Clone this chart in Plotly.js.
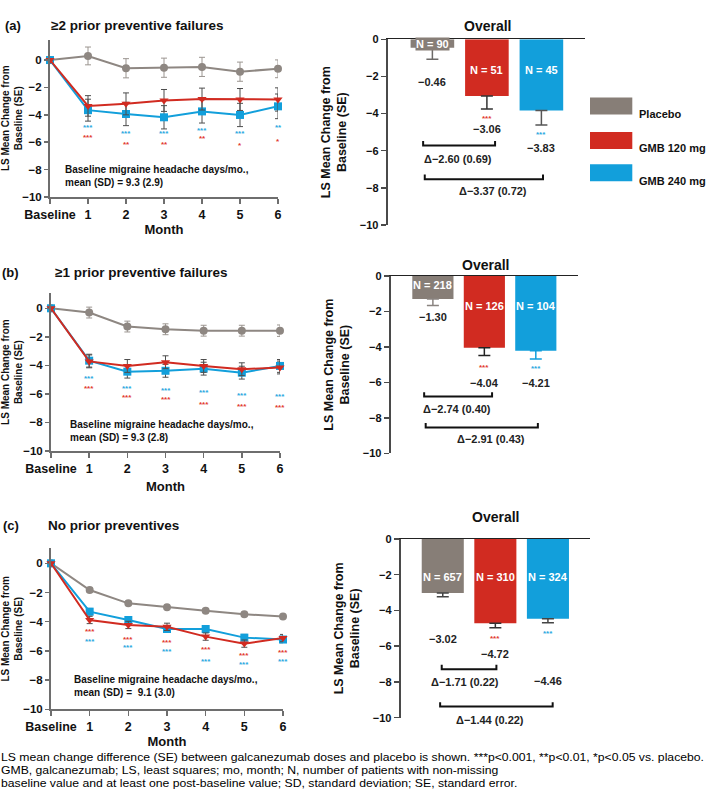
<!DOCTYPE html>
<html><head><meta charset="utf-8">
<script src="https://cdn.plot.ly/plotly-3.0.1.min.js"></script>
<style>
html,body{margin:0;padding:0;background:#fff;}
#wrap{position:relative;width:709px;height:794px;overflow:hidden;background:#fff;}
#chart{position:absolute;left:0;top:0;width:709px;height:794px;}
#foot{position:absolute;left:1px;top:750.5px;font-family:'Liberation Sans',Arial,sans-serif;font-size:11.5px;font-weight:normal;color:#000;line-height:13px;white-space:nowrap;transform-origin:0 0;}
#foot span{display:inline-block;}
</style></head><body>
<div id="wrap"><div id="chart"></div>
<div id="foot"><div><span id="f1">LS mean change difference (SE) between galcanezumab doses and placebo is shown. ***p&lt;0.001, **p&lt;0.01, *p&lt;0.05 vs. placebo.</span></div><div><span>GMB, galcanezumab; LS, least squares; mo, month; N, number of patients with non-missing</span></div><div><span>baseline value and at least one post-baseline value; SD, standard deviation; SE, standard error.</span></div></div>
</div>
<script>
// ---------- DATA ----------
const monthLabels = ['Baseline','1','2','3','4','5','6'];
const monthPos = [0,1,2,3,4,5,6];
const groups = ['Placebo','GMB 120 mg','GMB 240 mg'];

// (a) >=2 prior preventive failures
const aPlacebo   = [0, 0.30, -0.60, -0.56, -0.50, -0.85, -0.64];
const aPlaceboSE = [0, 0.65, 0.70, 0.70, 0.70, 0.70, 0.65];
const a120       = [0, -3.35, -3.20, -2.95, -2.85, -2.88, -2.88];
const a120SE     = [0, 0.75, 0.80, 0.80, 0.80, 0.80, 0.85];
const a240       = [0, -3.66, -3.94, -4.18, -3.75, -4.01, -3.38];
const a240SE     = [0, 0.80, 0.85, 0.85, 0.85, 0.85, 0.90];
const aStars120  = ['***','**','**','**','*','*'];
const aStars240  = ['***','***','***','***','***','**'];
const aBar   = [-0.46, -3.06, -3.83];
const aBarSE = [0.61, 0.69, 0.78];
const aN     = [90, 51, 45];
const aDelta = [-2.60, -3.37];
const aDeltaSE = [0.69, 0.72];
const aBaseline = [9.3, 2.9];

// (b) >=1 prior preventive failures
const bPlacebo   = [0, -0.30, -1.28, -1.47, -1.57, -1.57, -1.57];
const bPlaceboSE = [0, 0.38, 0.38, 0.38, 0.38, 0.38, 0.40];
const b120       = [0, -3.72, -4.04, -3.78, -4.04, -4.27, -4.15];
const b120SE     = [0, 0.45, 0.45, 0.45, 0.45, 0.45, 0.45];
const b240       = [0, -3.67, -4.44, -4.38, -4.23, -4.51, -4.04];
const b240SE     = [0, 0.45, 0.45, 0.45, 0.45, 0.45, 0.45];
const bStars120  = ['***','***','***','***','***','***'];
const bStars240  = ['***','***','***','***','***','***'];
const bBar   = [-1.30, -4.04, -4.21];
const bBarSE = [0.37, 0.45, 0.47];
const bN     = [218, 126, 104];
const bDelta = [-2.74, -2.91];
const bDeltaSE = [0.40, 0.43];
const bBaseline = [9.3, 2.8];

// (c) No prior preventives
const cPlacebo   = [0, -1.83, -2.74, -3.01, -3.24, -3.49, -3.65];
const cPlaceboSE = [0, 0.15, 0.15, 0.15, 0.15, 0.15, 0.15];
const c120       = [0, -3.88, -4.22, -4.35, -5.02, -5.50, -5.12];
const c120SE     = [0, 0.25, 0.25, 0.25, 0.25, 0.25, 0.25];
const c240       = [0, -3.31, -3.88, -4.50, -4.50, -5.09, -5.22];
const c240SE     = [0, 0.22, 0.22, 0.22, 0.22, 0.22, 0.22];
const cStars120  = ['***','***','***','***','***','***'];
const cStars240  = ['***','***','***','***','***','***'];
const cBar   = [-3.02, -4.72, -4.46];
const cBarSE = [0.21, 0.24, 0.22];
const cN     = [657, 310, 324];
const cDelta = [-1.71, -1.44];
const cDeltaSE = [0.22, 0.22];
const cBaseline = [9.1, 3.0];

// ---------- LABEL PLACEMENT (layout, not data) ----------
const W = 709, H = 794;
const px = v => v / W;
const py = v => 1 - v / H;
const FONT = 'Liberation Sans, Arial, sans-serif';
const colPlacebo = '#877e77', col120 = '#d12b21', col240 = '#129fdb';
const colPlaceboLine = '#8e8782';
const starRed = '#e23a30', starBlue = '#2aa8e0';

const panels = [
  { letter:'(a)', name:'\u22652 prior preventive failures', letterX:13, titleX:49, titleY:16, overallX:487.7, overallY:16,
    lineDomX:[50,278], lineDomY:[197,39.5], lineTop:1.5, barDomX:[387.7,585], barDomY:[225,39.3], barRange:[-0.82,2.8],
    monthStandoff:0,
    placebo:aPlacebo, placeboSE:aPlaceboSE, g120:a120, g120SE:a120SE, g240:a240, g240SE:a240SE,
    stars120:aStars120, stars240:aStars240,
    starY120:[-5.5,-6.0,-6.0,-5.6,-6.1,-5.8], starY240:[-4.8,-5.2,-5.2,-5.0,-5.2,-4.8],
    noteX:0.34, noteY:-8.5, base:aBaseline, noteSep:' = ',
    bar:aBar, barSE:aBarSE, n:aN, delta:aDelta, deltaSE:aDeltaSE,
    nY:[-0.27,-1.65,-1.65], valY:[-2.3,-4.84,-5.83], barStarY:[null,-4.16,-5.0],
    br:[{x0:-0.17,x1:1.15,y:-5.72,tx:0.47,ty:-6.43,ys:0},{x0:-0.14,x1:2.03,y:-7.53,tx:1.11,ty:-8.15,ys:0}],
    errCol:['#6d6a68','#333333','#555555'] },
  { letter:'(b)', name:'\u22651 prior preventive failures', letterX:10, titleX:53, titleY:272, overallX:485, overallY:255,
    lineDomX:[51,280], lineDomY:[451,293.3], lineTop:1.05, barDomX:[390.7,578], barDomY:[453.3,276], barRange:[-0.82,2.82],
    monthStandoff:7,
    placebo:bPlacebo, placeboSE:bPlaceboSE, g120:b120, g120SE:b120SE, g240:b240, g240SE:b240SE,
    stars120:bStars120, stars240:bStars240,
    starY120:[-5.49,-6.12,-6.28,-6.61,-6.75,-6.78], starY240:[-4.79,-5.48,-5.6,-5.77,-5.96,-6.07],
    noteX:0.45, noteY:-8.6, base:bBaseline, noteSep:' = ',
    bar:bBar, barSE:bBarSE, n:bN, delta:bDelta, deltaSE:bDeltaSE,
    nY:[-0.51,-1.67,-1.67], valY:[-2.33,-6.05,-6.05], barStarY:[null,-5.02,-5.11],
    br:[{x0:-0.17,x1:1.15,y:-6.8,tx:0.47,ty:-7.52,ys:0},{x0:-0.14,x1:2.04,y:-8.54,tx:1.12,ty:-9.21,ys:0}],
    errCol:['#8a8480','#222222',col240] },
  { letter:'(c)', name:'No prior preventives', letterX:11, titleX:46, titleY:535, overallX:495.7, overallY:516.7,
    lineDomX:[51,283], lineDomY:[709.3,548.3], lineTop:1.03, barDomX:[400.7,590], barDomY:[717.7,539], barRange:[-0.8,2.8],
    monthStandoff:0,
    placebo:cPlacebo, placeboSE:cPlaceboSE, g120:c120, g120SE:c120SE, g240:c240, g240SE:c240SE,
    stars120:cStars120, stars240:cStars240,
    starY120:[-4.52,-5.07,-5.30,-5.75,-6.16,-6.0], starY240:[-5.2,-5.64,-5.89,-6.62,-6.8,-6.58],
    noteX:0.54, noteY:-8.4, base:cBaseline, noteSep:' =  ',
    bar:cBar, barSE:cBarSE, n:cN, delta:cDelta, deltaSE:cDeltaSE,
    nY:[-2.11,-2.11,-2.11], valY:[-5.61,-6.45,-7.95], barStarY:[null,-5.47,-5.2],
    br:[{x0:-0.02,x1:1.02,y:-7.29,tx:0.43,ty:-7.98,ys:0},{x0:-0.05,x1:2.09,y:-9.38,tx:0.9,ty:-9.95,ys:-3}],
    errCol:['#444444','#333333','#444444'] }
];

const traces = [], annotations = [], shapes = [];
const layout = {
  width: W, height: H, margin:{l:0,r:0,t:0,b:0}, paper_bgcolor:'#fff', plot_bgcolor:'rgba(0,0,0,0)',
  showlegend:false, barmode:'overlay', font:{family:FONT, color:'#111'}
};
const fmtNeg = v => (v < 0 ? '\u2212' : '') + Math.abs(v).toFixed(2);

panels.forEach((p, k) => {
  const li = 2*k + 1, bi = 2*k + 2;
  const lx = li === 1 ? 'x' : 'x' + li, ly = li === 1 ? 'y' : 'y' + li;
  const bx = 'x' + bi, by = 'y' + bi;
  const lxk = li === 1 ? 'xaxis' : 'xaxis' + li, lyk = li === 1 ? 'yaxis' : 'yaxis' + li;
  const bxk = 'xaxis' + bi, byk = 'yaxis' + bi;

  // line chart axes
  layout[lxk] = { domain:[px(p.lineDomX[0]), px(p.lineDomX[1])], anchor:ly, range:[0,6],
    tickmode:'array', tickvals:monthPos, ticktext:monthLabels, showline:true, linecolor:'#6e6e6e', linewidth:2,
    ticks:'outside', ticklen:5, tickwidth:1.5, tickcolor:'#6e6e6e', showgrid:false, zeroline:false,
    tickfont:{family:FONT, size:12.5, color:'#111', weight:'bold'},
    title:{text:'Month', font:{family:FONT, size:13, color:'#111', weight:'bold'}, standoff:p.monthStandoff} };
  layout[lyk] = { domain:[py(p.lineDomY[0]), py(p.lineDomY[1])], anchor:lx, range:[-10, p.lineTop],
    tickmode:'array', tickvals:[0,-2,-4,-6,-8,-10], showline:true, linecolor:'#6e6e6e', linewidth:2,
    ticks:'outside', ticklen:4, tickwidth:1.5, tickcolor:'#6e6e6e', showgrid:false, zeroline:false,
    tickfont:{family:FONT, size:11.5, color:'#111', weight:'bold'},
    title:{text:'LS Mean Change from<br>Baseline (SE)', font:{family:FONT, size:10, color:'#111', weight:'bold'}, standoff:1} };

  // bar chart axes
  layout[bxk] = { domain:[px(p.barDomX[0]), px(p.barDomX[1])], anchor:by, range:p.barRange, side:'top',
    showline:true, linecolor:'#222', linewidth:1.5, showticklabels:false, ticks:'', showgrid:false, zeroline:false };
  layout[byk] = { domain:[py(p.barDomY[0]), py(p.barDomY[1])], anchor:bx, range:[-10,0],
    tickmode:'array', tickvals:[0,-2,-4,-6,-8,-10], showline:true, linecolor:'#4a4a4a', linewidth:2,
    ticks:'outside', ticklen:5, tickwidth:1.5, tickcolor:'#4a4a4a', showgrid:false, zeroline:false,
    tickfont:{family:FONT, size:11, color:'#111', weight:'bold'},
    title:{text:'LS Mean Change from<br>Baseline (SE)', font:{family:FONT, size:12.5, color:'#111', weight:'bold'}, standoff:10} };

  // line traces
  const series = [
    {y:p.placebo, se:p.placeboSE, col:colPlaceboLine, sym:'circle', size:8, ecol:'#9b9590', name:groups[0]},
    {y:p.g240, se:p.g240SE, col:col240, sym:'square', size:8, ecol:'#4d4d4d', name:groups[2]},
    {y:p.g120, se:p.g120SE, col:col120, sym:'triangle-down', size:8, ecol:'#4d4d4d', name:groups[1]}
  ];
  series.forEach(s => traces.push({
    type:'scatter', mode:'lines+markers', x:monthPos, y:s.y, xaxis:lx, yaxis:ly, name:s.name, cliponaxis:false,
    line:{color:s.col, width:2}, marker:{symbol:s.sym, size:s.size, color:s.col},
    error_y:{type:'data', array:s.se, visible:true, color:s.ecol, thickness:1, width:3}
  }));

  // significance stars (line)
  for (let i = 0; i < 6; i++) {
    annotations.push({xref:lx, yref:ly, x:i+1, y:p.starY240[i], text:p.stars240[i], showarrow:false, yshift:-2,
      font:{family:FONT, size:8, color:starBlue, weight:'bold'}});
    annotations.push({xref:lx, yref:ly, x:i+1, y:p.starY120[i], text:p.stars120[i], showarrow:false, yshift:-2,
      font:{family:FONT, size:8, color:starRed, weight:'bold'}});
  }
  // baseline note
  annotations.push({xref:lx, yref:ly, x:p.noteX, y:p.noteY, xanchor:'left', align:'left', showarrow:false,
    text:'Baseline migraine headache days/mo.,<br>mean (SD)' + p.noteSep + p.base[0].toFixed(1) + ' (' + p.base[1].toFixed(1) + ')',
    font:{family:FONT, size:10, color:'#111', weight:'bold'}});

  // bars
  const bcols = [colPlacebo, col120, col240];
  for (let i = 0; i < 3; i++) {
    traces.push({type:'bar', x:[i], y:[p.bar[i]], xaxis:bx, yaxis:by, name:groups[i], width:0.8,
      marker:{color:bcols[i], line:{width:0}},
      error_y:{type:'data', symmetric:false, array:[0], arrayminus:[p.barSE[i]], visible:true, color:p.errCol[i], thickness:1.5, width:6}});
    const small = Math.abs(p.bar[i]) < 1;
    annotations.push({xref:bx, yref:by, x:i, y:p.nY[i], text:'N = ' + p.n[i], showarrow:false,
      bgcolor: small ? bcols[i] : 'rgba(0,0,0,0)', borderpad:0,
      font:{family:FONT, size:11, color:'#fff', weight:'bold'}});
    annotations.push({xref:bx, yref:by, x:i, y:p.valY[i], text:fmtNeg(p.bar[i]), showarrow:false,
      font:{family:FONT, size:11, color:'#222', weight:'bold'}});
    if (p.barStarY[i] !== null) {
      annotations.push({xref:bx, yref:by, x:i, y:p.barStarY[i], text:'***', showarrow:false, yshift:-2,
        font:{family:FONT, size:8, color: i === 1 ? starRed : starBlue, weight:'bold'}});
    }
  }
  // brackets + deltas
  p.br.forEach((b, j) => {
    shapes.push({type:'path', xref:bx, yref:by,
      path:'M' + b.x0 + ',' + (b.y + 0.25) + ' L' + b.x0 + ',' + b.y + ' L' + b.x1 + ',' + b.y + ' L' + b.x1 + ',' + (b.y + 0.25),
      line:{color:'#111', width:2}});
    annotations.push({xref:bx, yref:by, x:b.tx, y:b.ty, yshift:b.ys, showarrow:false,
      text:'\u0394' + fmtNeg(p.delta[j]) + ' (' + p.deltaSE[j].toFixed(2) + ')',
      font:{family:FONT, size:11, color:'#222', weight:'bold'}});
  });

  // titles
  annotations.push({xref:'paper', yref:'paper', x:px(p.letterX), y:py(p.titleY), xanchor:'center', text:p.letter, showarrow:false,
    font:{family:FONT, size:13, color:'#111', weight:'bold'}});
  annotations.push({xref:'paper', yref:'paper', x:px(p.titleX), y:py(p.titleY), xanchor:'left', text:p.name, showarrow:false,
    font:{family:FONT, size:13.5, color:'#111', weight:'bold'}});
  annotations.push({xref:'paper', yref:'paper', x:px(p.overallX), y:py(p.overallY), xanchor:'center', text:'Overall', showarrow:false,
    font:{family:FONT, size:14, color:'#111', weight:'bold'}});
});

// legend
const legCols = [colPlacebo, col120, col240];
const legY = [106, 140.5, 172.7];
groups.forEach((g, i) => {
  shapes.push({type:'rect', xref:'paper', yref:'paper', x0:px(590), x1:px(632.3), y0:py(legY[i]+8.5), y1:py(legY[i]-8.5),
    fillcolor:legCols[i], line:{width:0}});
  annotations.push({xref:'paper', yref:'paper', x:px(637), y:py(legY[i]), xanchor:'left', text:g, showarrow:false,
    font:{family:FONT, size:11, color:'#111', weight:'bold'}});
});

layout.annotations = annotations;
layout.shapes = shapes;

Plotly.newPlot('chart', traces, layout, {displayModeBar:false, staticPlot:true}).then(() => {
  const f1 = document.getElementById('f1');
  const w = f1.getBoundingClientRect().width;
  if (w > 0) document.getElementById('foot').style.transform = 'scaleX(' + (703 / w) + ')';
});
</script></body></html>
